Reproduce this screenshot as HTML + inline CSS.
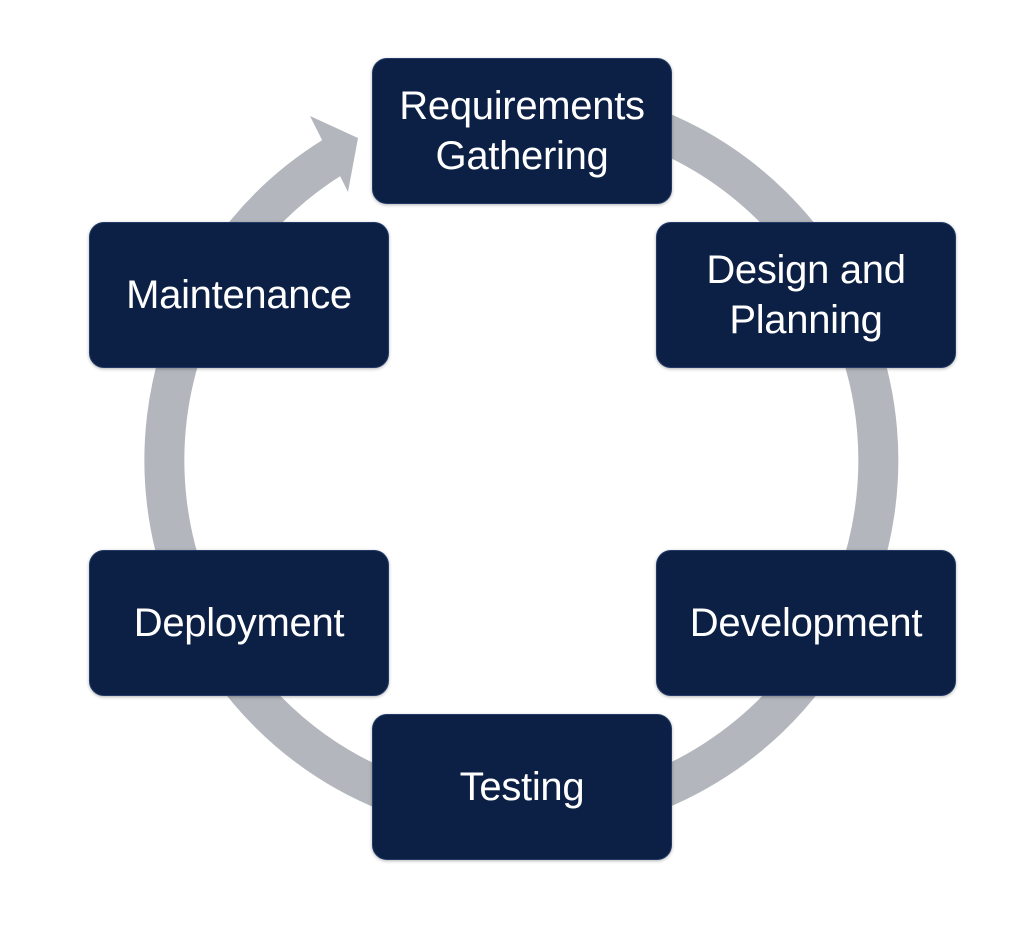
<!DOCTYPE html>
<html><head><style>
html,body{margin:0;padding:0;background:#fff;}
.wrap{position:relative;width:1010px;height:932px;overflow:hidden;}
svg{position:absolute;left:0;top:0;}
.b{position:absolute;width:300px;height:146px;background:#0c1f45;border:1px solid #233a66;border-radius:15px;box-sizing:border-box;display:flex;align-items:center;justify-content:center;text-align:center;color:#fff;font-family:"Liberation Sans",sans-serif;font-size:40px;line-height:50px;letter-spacing:-0.3px;box-shadow:0 1px 3px rgba(0,0,0,.3);}
</style></head><body><div class="wrap">
<svg width="1010" height="932">
<path d="M644 125 A357 357 0 1 1 333 157" fill="none" stroke="#b3b7bd" stroke-width="40"/>
<polygon points="310,116 358,138 348,192" fill="#b3b7bd"/>
</svg>
<div class="b" style="left:372px;top:58px;">Requirements<br>Gathering</div>
<div class="b" style="left:656px;top:222px;">Design and<br>Planning</div>
<div class="b" style="left:656px;top:550px;">Development</div>
<div class="b" style="left:372px;top:714px;">Testing</div>
<div class="b" style="left:89px;top:550px;">Deployment</div>
<div class="b" style="left:89px;top:222px;">Maintenance</div>
</div></body></html>
